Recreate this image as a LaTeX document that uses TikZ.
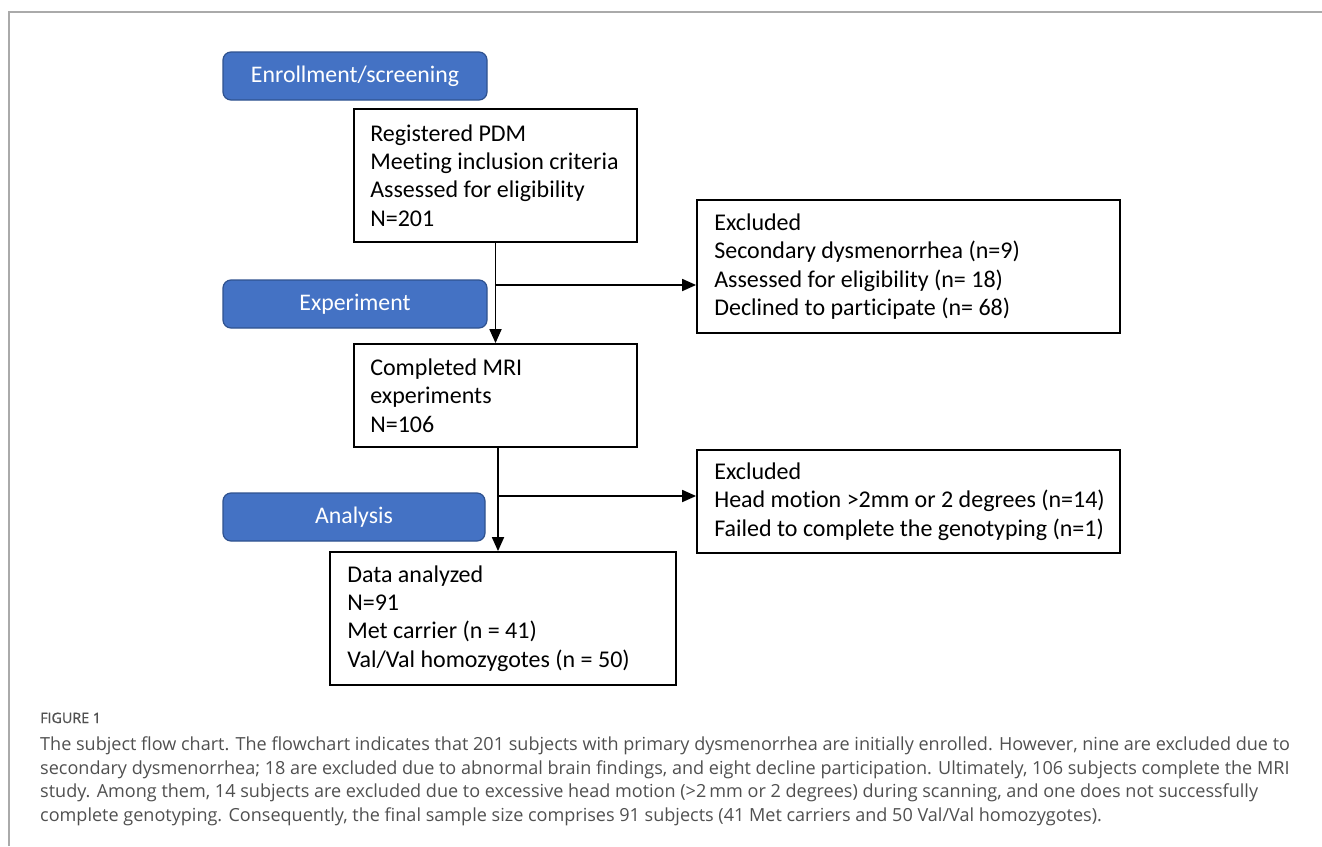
\documentclass[tikz,border=0pt]{standalone}
\usepackage{fontspec}
\setmainfont{Carlito}[Ligatures=NoCommon]
\newfontfamily\capfont{Open Sans}
\newfontfamily\figfont{Open Sans}[FakeBold=0.8]
\usetikzlibrary{arrows.meta}
\definecolor{phase}{HTML}{4472C4}
\definecolor{phaseedge}{HTML}{2F528F}
\definecolor{capgray}{HTML}{505050}
\definecolor{framegray}{HTML}{AAAAAA}
\newcommand\natsp{\spaceskip=0pt\xspaceskip=0pt\hyphenpenalty=10000\relax}
\tikzset{
  phasebox/.style={draw=phaseedge, line width=1.2pt, fill=phase, rounded corners=8pt,
    minimum width=264pt, minimum height=48pt, inner sep=0pt, text=white,
    font=\fontsize{23.8}{28}\selectfont},
  flowbox/.style={draw=black, line width=1.8pt, inner sep=0pt},
  flowtext/.style={anchor=west, inner sep=0pt, text width=420pt, align=flush left,
    font=\fontsize{24}{28.4}\selectfont},
  flowarrow/.style={draw=black, line width=1.8pt, -{Triangle[length=14pt,width=12pt]}},
  capline/.style={anchor=base west, inner sep=0pt, text=capgray, font=\capfont\fontsize{18.05}{20}\selectfont}
}
\begin{document}
\begin{tikzpicture}[x=1pt,y=-1pt]
\useasboundingbox (0,0) rectangle (1322,846);
\draw[framegray, line width=1.5pt] (9,846) -- (9,12) -- (1322,12);

\node[phasebox] (enr) at (355,76) {Enrollment/screening};
\node[phasebox] (exp) at (355,304) {Experiment};
\node[phasebox, minimum width=262pt] (ana) at (354,517) {Analysis};

\node[flowbox, minimum width=283pt, minimum height=133pt] (reg) at (495.5,175.5) {};
\node[flowbox, minimum width=423pt, minimum height=133pt] (ex1) at (908.5,266.5) {};
\node[flowbox, minimum width=283pt, minimum height=103pt] (mri) at (495.5,395.5) {};
\node[flowbox, minimum width=423pt, minimum height=103pt] (ex2) at (908.5,501.5) {};
\node[flowbox, minimum width=346pt, minimum height=133pt] (dat) at (503,618.5) {};

\node[flowtext, xshift=17pt] (regt) at (reg.west)
  {\natsp Registered PDM\\Meeting inclusion criteria\\Assessed for eligibility\\N=201};
\node[flowtext, xshift=18pt] (ex1t) at (ex1.west)
  {\natsp Excluded\\Secondary dysmenorrhea (n=9)\\Assessed for eligibility (n= 18)\\Declined to participate (n= 68)};
\node[flowtext, xshift=17pt] (mrit) at (mri.west)
  {\natsp Completed MRI\\experiments\\N=106};
\node[flowtext, xshift=18pt] (ex2t) at (ex2.west)
  {\natsp Excluded\\Head motion >2mm or 2 degrees (n=14)\\Failed to complete the genotyping (n=1)};
\node[flowtext, xshift=18pt] (datt) at (dat.west)
  {\natsp Data analyzed\\N=91\\Met carrier (n = 41)\\Val/Val homozygotes (n = 50)};

\draw[flowarrow] (reg.south) -- (mri.north);
\coordinate (br1) at (495.5,285);
\draw[flowarrow] (br1) -- (ex1.west |- br1);
\coordinate (m2) at (498,447);
\draw[flowarrow] (mri.south -| m2) -- (dat.north -| m2);
\coordinate (br2) at (498,496);
\draw[flowarrow] (br2) -- (ex2.west |- br2);

\node[anchor=base west, inner sep=0pt, text=capgray, font=\figfont\fontsize{14.3}{15}\selectfont] (figlab) at (40,723) {FIGURE 1};
\node[capline] (c1) at (40,750) {The subject flow chart. The flowchart indicates that 201 subjects with primary dysmenorrhea are initially enrolled. However, nine are excluded due to};
\node[capline] (c2) at (40,774) {secondary dysmenorrhea; 18 are excluded due to abnormal brain findings, and eight decline participation. Ultimately, 106 subjects complete the MRI};
\node[capline] (c3) at (40,797.5) {study. Among them, 14 subjects are excluded due to excessive head motion (>2\,mm or 2 degrees) during scanning, and one does not successfully};
\node[capline] (c4) at (40,821) {complete genotyping. Consequently, the final sample size comprises 91 subjects (41 Met carriers and 50 Val/Val homozygotes).};
\end{tikzpicture}
\end{document}
